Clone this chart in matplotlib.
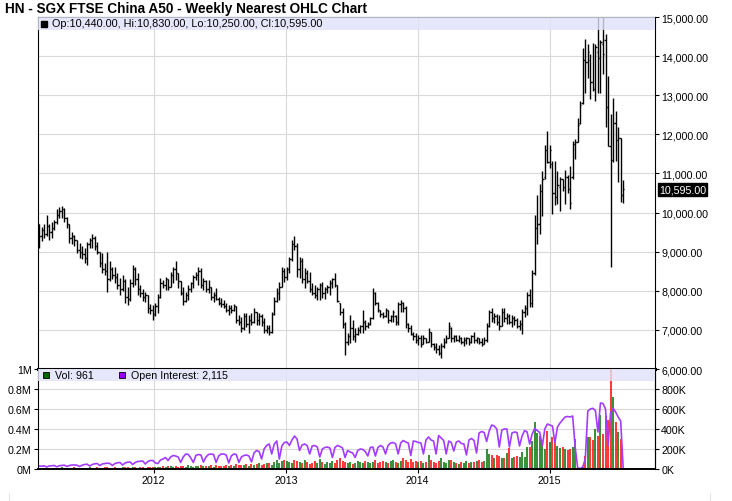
import numpy as np
import pandas as pd
import matplotlib
matplotlib.use("Agg")
import matplotlib.pyplot as plt
import matplotlib.dates as mdates
from matplotlib.patches import Rectangle
from matplotlib.lines import Line2D

plt.rcParams['font.family'] = ['Liberation Sans', 'DejaVu Sans']

# === Weekly bars, values
first_week = "2011-02-18"

opens = [
    9700, 9400, 9550, 9450, 9650, 9500, 9600, 9750, 9950, 10050,
    10100, 9850, 9700, 9350, 9400, 9300, 9050, 9000, 8950, 8850,
    9200, 9300, 9350, 9150, 9000, 8700, 8550, 8500, 8300, 8550,
    8400, 8350, 8150, 8050, 8250, 7850, 7800, 8200, 8550, 8300,
    8050, 7950, 7850, 7900, 7550, 7500, 7400, 7600, 7850, 8200,
    8150, 8300, 8100, 8400, 8550, 8450, 8250, 7950, 7750, 7900,
    8050, 8200, 8350, 8400, 8500, 8150, 8250, 8050, 8100, 7850,
    7900, 7800, 7700, 7650, 7600, 7500, 7550, 7500, 7600, 7250,
    7200, 7050, 7350, 7150, 7250, 7200, 7450, 7250, 7350, 7200,
    7000, 7050, 6950, 7400, 7750, 7950, 8100, 8500, 8350, 8550,
    8800, 9200, 9150, 8550, 8750, 8300, 8450, 8250, 8050, 7950,
    7900, 8050, 8150, 7950, 8050, 8100, 8200, 8300, 8150, 7700,
    7450, 7150, 6700, 6850, 7050, 6850, 6900, 7000, 7100, 7200,
    7100, 7150, 7300, 7950, 7700, 7500, 7400, 7350, 7500, 7250,
    7350, 7350, 7200, 7650, 7700, 7550, 7150, 7050, 6900, 6850,
    6750, 6800, 6650, 6800, 6700, 6950, 6650, 6550, 6500, 6400,
    6600, 6700, 6800, 7050, 6800, 6850, 6750, 6800, 6700, 6750,
    6800, 6700, 6850, 6750, 6800, 6700, 6650, 6750, 7100, 7450,
    7300, 7350, 7200, 7100, 7450, 7300, 7350, 7200, 7300, 7250,
    7100, 7150, 7450, 7550, 7900, 7700, 8450, 9600, 9700, 10550,
    10900, 11600, 11300, 11250, 10500, 10400, 10650, 10850, 10650, 10900,
    10600, 10900, 11750, 11800, 12300, 12800, 13900, 13850, 13900, 13350,
    13150, 14100, 13950, 14300, 14400, 12700, 11700, 11350, 12300, 11850,
    11900, 10440]

highs = [
    9720, 9640, 9700, 9950, 9700, 9750, 9820, 10080, 10150, 10180,
    10120, 9880, 9720, 9500, 9420, 9300, 9230, 9150, 9100, 9250,
    9360, 9460, 9400, 9250, 9000, 8970, 8700, 9000, 8750, 8600,
    8600, 8450, 8330, 8400, 8300, 8100, 8300, 8670, 8600, 8450,
    8150, 8050, 7970, 7900, 7650, 7640, 7700, 7920, 8330, 8280,
    8360, 8300, 8490, 8600, 8750, 8460, 8260, 8100, 7970, 8150,
    8230, 8410, 8490, 8600, 8590, 8330, 8280, 8280, 8100, 7970,
    8080, 7850, 7820, 7770, 7690, 7640, 7640, 7670, 7600, 7380,
    7330, 7430, 7430, 7380, 7430, 7560, 7460, 7430, 7400, 7310,
    7130, 7130, 7460, 7850, 8080, 8230, 8610, 8590, 8610, 8870,
    9300, 9400, 9230, 8870, 8850, 8590, 8540, 8490, 8200, 8150,
    8100, 8200, 8230, 8100, 8150, 8280, 8330, 8460, 8150, 7700,
    7560, 7200, 6920, 7380, 7250, 7050, 7080, 7130, 7510, 7260,
    7200, 7330, 8080, 7970, 7720, 7510, 7460, 7560, 7510, 7380,
    7510, 7380, 7720, 7770, 7720, 7600, 7180, 7130, 6950, 6920,
    6870, 6870, 6870, 6800, 7050, 6950, 6670, 6670, 6620, 6670,
    6790, 6870, 7200, 7080, 6870, 6870, 6870, 6820, 6820, 6820,
    6800, 6870, 6950, 6820, 6800, 6790, 6820, 7180, 7510, 7560,
    7430, 7400, 7380, 7560, 7560, 7430, 7400, 7380, 7350, 7300,
    7260, 7540, 7640, 7970, 8050, 8540, 9950, 10460, 10720, 11050,
    11740, 12080, 11740, 11310, 11310, 11050, 10920, 10870, 11100, 10970,
    11180, 11820, 11870, 12410, 12850, 14210, 14440, 14310, 14050, 14330,
    14300, 15000, 14400, 15000, 14560, 13490, 12510, 12930, 12590, 12200,
    11900, 10830]

lows = [
    9100, 9260, 9360, 9400, 9300, 9350, 9560, 9700, 9850, 9850,
    9750, 9600, 9230, 9200, 9150, 8970, 8850, 8800, 8700, 8670,
    9100, 9100, 9050, 8950, 8600, 8460, 8400, 7970, 8250, 8300,
    8200, 8050, 7900, 8000, 7700, 7640, 7750, 8100, 8150, 7900,
    7850, 7750, 7720, 7440, 7400, 7250, 7350, 7440, 7820, 8080,
    8030, 8030, 8100, 8200, 8280, 8080, 7900, 7640, 7720, 7770,
    7970, 8080, 8280, 8150, 8080, 8030, 7970, 7950, 7770, 7720,
    7770, 7640, 7590, 7560, 7460, 7380, 7420, 7480, 7180, 7130,
    6950, 7000, 7080, 6920, 7130, 7180, 7130, 7130, 7100, 6920,
    6920, 6870, 6920, 7380, 7720, 7770, 8100, 8230, 8280, 8460,
    8750, 9050, 8360, 8330, 8200, 8080, 8200, 7970, 7900, 7820,
    7770, 7770, 7820, 7800, 7950, 7900, 8080, 8100, 7720, 7380,
    7050, 6360, 6620, 6670, 6740, 6690, 6870, 6920, 6920, 7000,
    7050, 7130, 7280, 7640, 7460, 7330, 7310, 7330, 7180, 7200,
    7200, 7130, 7130, 7460, 7460, 7050, 6950, 6870, 6740, 6670,
    6620, 6560, 6640, 6670, 6690, 6560, 6490, 6410, 6360, 6280,
    6540, 6670, 6800, 6690, 6700, 6720, 6700, 6650, 6600, 6650,
    6620, 6670, 6670, 6670, 6640, 6590, 6640, 6700, 7080, 7200,
    7180, 7130, 7000, 7100, 7200, 7150, 7150, 7080, 7120, 7050,
    7000, 6900, 7330, 7380, 7590, 7590, 8410, 9200, 9440, 9900,
    10850, 11260, 11130, 9970, 10200, 10210, 10030, 10540, 10210, 10490,
    10080, 10850, 11380, 11800, 12260, 12770, 13050, 13440, 12900, 13100,
    12850, 13050, 13050, 13550, 12200, 11690, 8620, 11300, 11310, 10790,
    10280, 10250]

closes = [
    9400, 9550, 9450, 9650, 9500, 9600, 9750, 9950, 10050, 10100,
    9850, 9700, 9350, 9400, 9300, 9050, 9000, 8950, 8850, 9200,
    9300, 9350, 9150, 9000, 8700, 8550, 8500, 8300, 8550, 8400,
    8350, 8150, 8050, 8250, 7850, 7800, 8200, 8550, 8300, 8050,
    7950, 7850, 7900, 7550, 7500, 7400, 7600, 7850, 8200, 8150,
    8300, 8100, 8400, 8550, 8450, 8250, 7950, 7750, 7900, 8050,
    8200, 8350, 8400, 8500, 8150, 8250, 8050, 8100, 7850, 7900,
    7800, 7700, 7650, 7600, 7500, 7550, 7500, 7600, 7250, 7200,
    7050, 7350, 7150, 7250, 7200, 7450, 7250, 7350, 7200, 7000,
    7050, 6950, 7400, 7750, 7950, 8100, 8500, 8350, 8550, 8800,
    9200, 9150, 8550, 8750, 8300, 8450, 8250, 8050, 7950, 7900,
    8050, 8150, 7950, 8050, 8100, 8200, 8300, 8150, 7750, 7450,
    7150, 6700, 6850, 7050, 6850, 6900, 7000, 7100, 7200, 7100,
    7150, 7300, 7950, 7700, 7500, 7400, 7350, 7500, 7250, 7350,
    7450, 7200, 7650, 7700, 7550, 7150, 7050, 6900, 6850, 6750,
    6800, 6650, 6800, 6700, 6950, 6650, 6550, 6500, 6400, 6600,
    6700, 6800, 7100, 6800, 6850, 6750, 6800, 6700, 6750, 6800,
    6700, 6850, 6750, 6800, 6700, 6650, 6750, 7100, 7450, 7300,
    7350, 7200, 7100, 7450, 7300, 7350, 7200, 7300, 7250, 7100,
    7150, 7450, 7550, 7900, 7700, 8450, 9600, 9700, 10550, 10850,
    11600, 11300, 11600, 10500, 10400, 10700, 10850, 10650, 10900, 10600,
    10250, 11750, 11800, 12250, 12750, 13900, 13850, 14100, 13350, 13150,
    14230, 13950, 14350, 14050, 12700, 11700, 11350, 12300, 11850, 11900,
    10460, 10595]

# volume and open interest, thousands of contracts
volume_k = [
    12, 8, 10, 15, 9, 14, 10, 8, 12, 16,
    10, 9, 14, 12, 18, 10, 13, 15, 11, 9,
    16, 14, 12, 17, 10, 13, 18, 20, 12, 15,
    19, 14, 11, 17, 22, 16, 13, 20, 18, 15,
    21, 24, 14, 19, 22, 17, 20, 25, 18, 30,
    22, 28, 35, 24, 30, 20, 27, 33, 25, 38,
    30, 22, 35, 28, 40, 26, 32, 30, 38, 25,
    42, 30, 35, 28, 45, 33, 40, 30, 48, 36,
    42, 38, 50, 35, 55, 45, 48, 60, 40, 52,
    65, 58, 45, 70, 90, 60, 85, 95, 80, 70,
    60, 90, 85, 75, 60, 95, 70, 55, 65, 80,
    60, 100, 75, 55, 70, 60, 80, 65, 90, 110,
    85, 70, 60, 75, 55, 65, 80, 70, 60, 85,
    75, 65, 70, 90, 60, 75, 85, 70, 60, 80,
    95, 70, 65, 85, 110, 90, 75, 100, 70, 80,
    70, 80, 65, 75, 140, 90, 75, 60, 85, 110,
    70, 65, 95, 90, 75, 60, 50, 70, 60, 80,
    65, 75, 70, 80, 90, 75, 85, 200, 150, 140,
    110, 140, 130, 110, 110, 160, 210, 110, 120, 130,
    120, 170, 120, 220, 220, 280, 470, 360, 330, 250,
    200, 380, 270, 320, 270, 230, 210, 220, 200, 190,
    200, 220, 300, 3, 10, 20, 130, 320, 320, 290,
    400, 330, 540, 350, 530, 490, 1050, 720, 470, 370,
    300, 1]

open_interest_k = [
    30, 28, 32, 20, 30, 33, 35, 22, 32, 36,
    38, 25, 35, 40, 40, 38, 25, 38, 45, 48,
    30, 45, 52, 55, 35, 50, 55, 58, 55, 35,
    55, 62, 65, 40, 60, 68, 70, 45, 65, 75,
    78, 80, 50, 75, 85, 85, 60, 55, 90, 100,
    115, 85, 120, 135, 130, 120, 65, 120, 150, 145,
    110, 65, 135, 145, 140, 70, 120, 145, 150, 145,
    65, 130, 150, 150, 140, 60, 130, 150, 145, 65,
    120, 135, 140, 130, 70, 160, 185, 175, 100, 200,
    235, 250, 150, 250, 280, 100, 230, 265, 270, 235,
    290, 330, 300, 185, 240, 250, 235, 150, 230, 235,
    220, 120, 200, 215, 220, 210, 115, 215, 235, 225,
    210, 115, 185, 170, 160, 115, 185, 200, 195, 175,
    130, 215, 220, 130, 215, 235, 220, 150, 235, 260,
    265, 250, 150, 260, 285, 270, 260, 135, 280, 275,
    265, 260, 150, 290, 320, 290, 280, 150, 335, 310,
    285, 150, 280, 265, 180, 270, 280, 255, 250, 140,
    290, 305, 285, 160, 360, 375, 365, 275, 380, 440,
    430, 400, 220, 390, 400, 400, 220, 360, 370, 365,
    230, 330, 385, 370, 250, 350, 405, 385, 365, 230,
    400, 450, 440, 430, 265, 420, 460, 490, 520, 525,
    520, 530, 220, 10, 5, 20, 100, 580, 600, 607,
    585, 370, 660, 655, 600, 230, 560, 607, 570, 520,
    480, 2.1]

price_ticks = [6000, 7000, 8000, 9000, 10000, 11000, 12000, 13000, 14000, 15000]
vol_left_ticks = [0, 200, 400, 600, 800, 1000]
vol_left_labels = ["0M", "0.2M", "0.4M", "0.6M", "0.8M", "1M"]
vol_right_ticks = [0, 200, 400, 600, 800]
vol_right_labels = ["0K", "200K", "400K", "600K", "800K"]

title = "HN - SGX FTSE China A50 - Weekly Nearest OHLC Chart"
ohlc_legend = "Op:10,440.00, Hi:10,830.00, Lo:10,250.00, Cl:10,595.00"
last_price = 10595
last_label = "10,595.00"
vol_legend = "Vol: 961"
oi_legend = "Open Interest: 2,115"

# === Colours
band_c = "#e2e2fc"
grid_c = "#d9d9d9"
up_c = "#007000"
down_c = "#ff0000"
oi_c = "#a43cff"

dates = pd.date_range(first_week, periods=len(closes), freq="7D")
x = mdates.date2num(dates)

W, H = 732, 502
fig = plt.figure(figsize=(W / 100, H / 100), dpi=100)
ax = fig.add_axes([38 / W, 1 - 370 / H, 617 / W, 352 / H])
axv = fig.add_axes([38 / W, 1 - 470 / H, 617 / W, 100 / H], sharex=ax)

# === Price panel
tick = 3.5  # days
ax.vlines(x, lows, highs, color="black", lw=1.0, zorder=2)
ax.hlines(opens, x - tick, x, color="black", lw=1.0, zorder=2)
ax.hlines(closes, x, x + tick, color="black", lw=1.0, zorder=2)

ax.set_xlim(mdates.date2num(pd.Timestamp("2011-02-15")),
            mdates.date2num(pd.Timestamp("2015-10-20")))
ax.set_ylim(6000, 15000)
ax.yaxis.tick_right()
ax.set_yticks(price_ticks)
ax.set_yticklabels([f"{v:,.2f}" for v in price_ticks])
ax.tick_params(axis="y", length=3, width=0.8, pad=1.5, labelsize=7.7)
ax.tick_params(axis="x", bottom=False, labelbottom=False)
ax.grid(True, color=grid_c, lw=0.8)
ax.set_axisbelow(True)
for side in ["left", "right", "top"]:
    ax.spines[side].set_linewidth(0.8)
ax.spines["bottom"].set_linewidth(2.2)

ax.add_patch(Rectangle((0, 1 - 13 / 352), 1, 13 / 352, transform=ax.transAxes,
                       facecolor=band_c, edgecolor="none", alpha=0.8, zorder=3))
ax.plot(0.0105, 1 - 6.5 / 352, marker="s", ms=4.5, color="black",
        transform=ax.transAxes, clip_on=False, zorder=5)
ax.text(0.0227, 1 - 6.5 / 352, ohlc_legend, transform=ax.transAxes,
        fontsize=7.8, va="center", ha="left", zorder=6)

ax.text(1.0065, last_price, last_label, transform=ax.get_yaxis_transform(),
        color="white", fontsize=7.7, va="center", ha="left",
        bbox=dict(boxstyle="square,pad=0.12", fc="black", ec="black"))

# === Volume / open interest panel
vol_colors = [up_c if c >= o else down_c for o, c in zip(opens, closes)]
axv.vlines(x, 0, volume_k, colors=vol_colors, lw=1.1, zorder=2)
axv.plot(x, open_interest_k, color=oi_c, lw=1.2, zorder=2.5)

axv.set_ylim(0, 1000)
axv.set_yticks(vol_left_ticks)
axv.set_yticklabels(vol_left_labels)
axv.tick_params(axis="y", length=3, width=0.8, pad=1.5, labelsize=7.7)
axv.xaxis.set_major_locator(mdates.YearLocator())
axv.xaxis.set_major_formatter(mdates.DateFormatter("%Y"))
axv.tick_params(axis="x", length=3, width=0.8, pad=1, labelsize=7.7)
axv.grid(True, color=grid_c, lw=0.8)
axv.set_axisbelow(True)
axv.spines["top"].set_visible(False)
axv.spines["bottom"].set_linewidth(1.4)
axv.spines["left"].set_linewidth(0.8)
axv.spines["right"].set_linewidth(0.8)

axr = axv.twinx()
axr.set_ylim(0, 1000)
axr.set_yticks(vol_right_ticks)
axr.set_yticklabels(vol_right_labels)
axr.tick_params(axis="y", length=3, width=0.8, pad=1.5, labelsize=7.7)
axr.spines["top"].set_visible(False)
axr.spines["bottom"].set_visible(False)
axr.spines["right"].set_linewidth(0.8)
axr.spines["left"].set_visible(False)

axr.add_patch(Rectangle((0, 0.88), 1, 0.12, transform=axr.transAxes,
                        facecolor=band_c, edgecolor="none", alpha=0.8, zorder=3))
axr.plot(0.0125, 0.94, marker="s", ms=5, mfc="#006600", mec="black", mew=0.6,
         transform=axr.transAxes, clip_on=False, zorder=5)
axr.text(0.0276, 0.94, vol_legend, transform=axr.transAxes,
         fontsize=7.7, va="center", ha="left", zorder=6)
axr.plot(0.1355, 0.94, marker="s", ms=5, mfc="#9900ff", mec="black", mew=0.6,
         transform=axr.transAxes, clip_on=False, zorder=5)
axr.text(0.151, 0.94, oi_legend, transform=axr.transAxes,
         fontsize=7.7, va="center", ha="left", zorder=6)

# === Title and faint frame below
fig.text(5 / W, 1 - 2 / H, title, fontsize=9.8, fontweight="bold", va="top", ha="left")
for fx in [9 / W, 710 / W]:
    fig.add_artist(Line2D([fx, fx], [0, 8 / H], color="#e6e6e6", lw=0.8))

fig.savefig("out.png", dpi=100)
